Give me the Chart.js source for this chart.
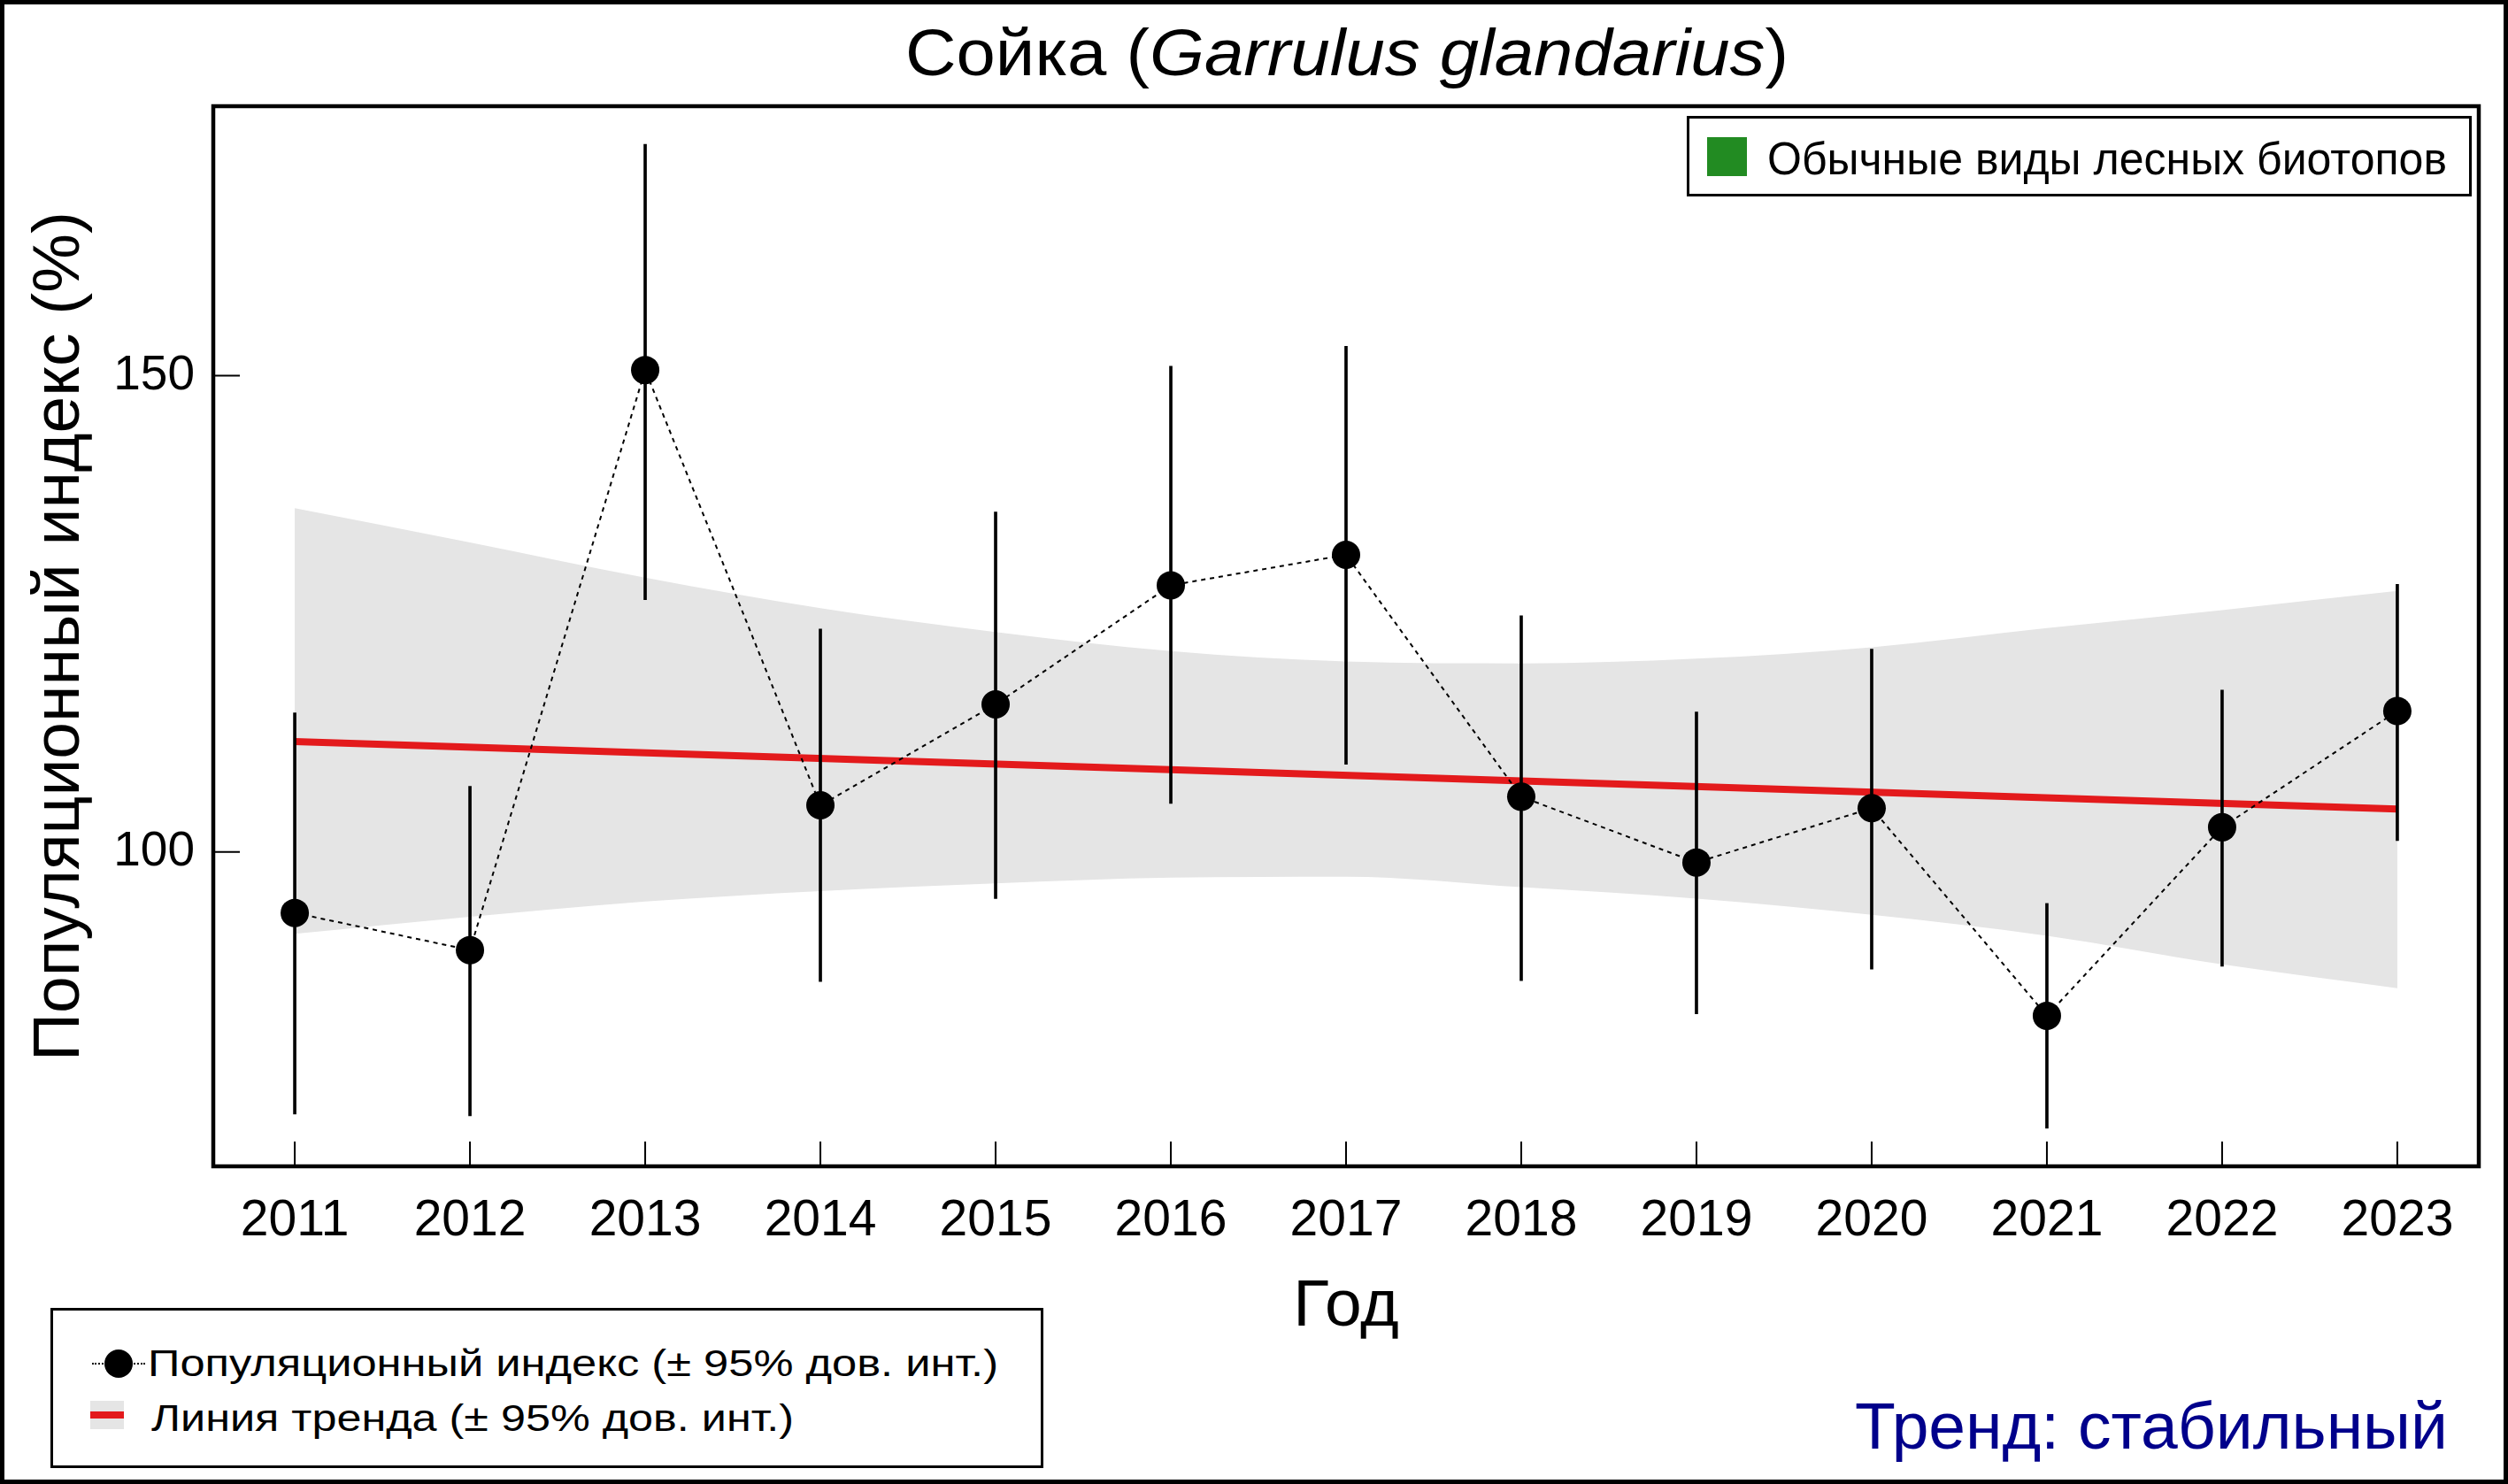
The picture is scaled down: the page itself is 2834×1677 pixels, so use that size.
<!DOCTYPE html>
<html>
<head>
<meta charset="utf-8">
<script src="https://cdn.jsdelivr.net/npm/chart.js@4.4.1/dist/chart.umd.min.js"></script>
<style>
    html, body { margin: 0; padding: 0; background: #fff; }
    #wrap { position: relative; width: 2834px; height: 1677px; overflow: hidden;
            font-family: "Liberation Sans", Arial, sans-serif; color: #000; }
    #chart { position: absolute; left: 0; top: 0; }
    #frame { position: absolute; left: 0; top: 0; width: 2834px; height: 1677px;
             box-sizing: border-box; border: 5px solid #000; pointer-events: none; }
    .txt { position: absolute; white-space: nowrap; line-height: 1; transform-origin: 0 0; display: inline-block; }
    .box { position: absolute; box-sizing: border-box; border: 3px solid #000; background: #fff; }
    .abs { position: absolute; }
</style>
</head>
<body>
<div id="wrap">
    <canvas id="chart" width="2834" height="1677"></canvas>

    <div class="txt" id="title" style="left:1023px; top:22px; font-size:75px;">Сойка (<i>Garrulus glandarius</i>)</div>

    <div class="box" style="left:1906px; top:131px; width:887px; height:91px;"></div>
    <div class="abs" style="left:1929px; top:155px; width:45px; height:44px; background:#228B22;"></div>
    <div class="txt" id="groupLabel" style="left:1997px; top:153px; font-size:52px;">Обычные виды лесных биотопов</div>

    <div class="box" style="left:57px; top:1478px; width:1122px; height:181px;"></div>
    <div class="abs" style="left:104px; top:1540px; width:60px; height:0; border-top:2px dotted #000;"></div>
    <div class="abs" style="left:118px; top:1525px; width:32px; height:32px; border-radius:50%; background:#000;"></div>
    <div class="abs" style="left:102px; top:1583px; width:38px; height:32px; background:#e5e5e5;"></div>
    <div class="abs" style="left:102px; top:1595px; width:38px; height:8px; background:#e31a1c;"></div>
    <div class="txt" id="row1" style="left:167px; top:1519px; font-size:43px;">Популяционный индекс (± 95% дов. инт.)</div>
    <div class="txt" id="row2" style="left:171px; top:1581px; font-size:43px;">Линия тренда (± 95% дов. инт.)</div>

    <div class="txt" id="trendLabel" style="left:2096px; top:1575px; font-size:74px; color:#00008B;">Тренд: стабильный</div>

    <div id="frame"></div>
</div>

<script>
// data
const years = [2011, 2012, 2013, 2014, 2015, 2016, 2017, 2018, 2019, 2020, 2021, 2022, 2023];
const indexValues = [93.6, 89.7, 150.6, 104.9, 115.5, 128.0, 131.2, 105.8, 98.9, 104.6, 82.8, 102.6, 114.8];
const ciLow = [72.5, 72.3, 126.5, 86.4, 95.1, 105.1, 109.2, 86.5, 83.0, 87.7, 71.0, 88.0, 101.2];
const ciHigh = [114.6, 106.9, 174.3, 123.4, 135.7, 151.0, 153.1, 124.8, 114.7, 121.3, 94.6, 117.0, 128.1];
const bandUpper = [136.1, 132.5, 128.8, 125.6, 123.1, 121.1, 120.0, 119.8, 120.3, 121.5, 123.5, 125.4, 127.4];
const bandLower = [91.4, 93.2, 94.8, 95.9, 96.7, 97.3, 97.4, 96.3, 95.1, 93.4, 91.2, 88.2, 85.7];
const trendYears = [2011, 2023];
const trendValues = [111.6, 104.5];
const yTicks = [100, 150];
const xRange = [2010.535, 2023.465];
const yRange = [67.0, 178.3];

const FONT = '"Liberation Sans", Arial, sans-serif';

// stretch the overlay texts to the widths they have in the reference
function fitWidth(id, target) {
    const el = document.getElementById(id);
    const w = el.getBoundingClientRect().width;
    if (w > 0) el.style.transform = `scaleX(${target / w})`;
}
fitWidth('title', 998);
fitWidth('groupLabel', 768);
fitWidth('row1', 961);
fitWidth('row2', 726);
fitWidth('trendLabel', 670);

const frameAndTicks = {
    id: 'frameAndTicks',
    afterDraw(chart) {
        const { ctx, chartArea: a, scales: { x, y } } = chart;
        ctx.save();
        ctx.strokeStyle = '#000';
        ctx.lineWidth = 2;
        ctx.beginPath();
        years.forEach(v => {
            const px = x.getPixelForValue(v);
            ctx.moveTo(px, a.bottom);
            ctx.lineTo(px, a.bottom - 28);
        });
        yTicks.forEach(v => {
            const py = y.getPixelForValue(v);
            ctx.moveTo(a.left, py);
            ctx.lineTo(a.left + 30, py);
        });
        ctx.stroke();
        ctx.lineWidth = 4.5;
        ctx.strokeRect(a.left, a.top, a.right - a.left, a.bottom - a.top);
        ctx.restore();
    }
};

const pts = (xs, ys) => xs.map((v, i) => ({ x: v, y: ys[i] }));

new Chart(document.getElementById('chart').getContext('2d'), {
    type: 'line',
    data: {
        datasets: [
            {
                label: 'band upper',
                data: pts(years, bandUpper),
                borderWidth: 0,
                pointRadius: 0,
                cubicInterpolationMode: 'monotone',
                backgroundColor: '#e5e5e5',
                fill: '+1',
                order: 20
            },
            {
                label: 'band lower',
                data: pts(years, bandLower),
                borderWidth: 0,
                pointRadius: 0,
                cubicInterpolationMode: 'monotone',
                fill: false,
                order: 21
            },
            {
                label: 'trend',
                data: pts(trendYears, trendValues),
                borderColor: '#e31a1c',
                borderWidth: 8,
                pointRadius: 0,
                fill: false,
                order: 5
            },
            {
                type: 'bar',
                label: 'ci',
                data: years.map((v, i) => ({ x: v, y: [ciLow[i], ciHigh[i]] })),
                backgroundColor: '#000',
                borderWidth: 0,
                barThickness: 3,
                grouped: false,
                order: 3
            },
            {
                label: 'index',
                data: pts(years, indexValues),
                borderColor: '#000',
                borderWidth: 2,
                borderDash: [5, 5],
                pointRadius: 16,
                pointHoverRadius: 16,
                pointBackgroundColor: '#000',
                pointBorderWidth: 0,
                fill: false,
                order: 1
            }
        ]
    },
    options: {
        responsive: false,
        devicePixelRatio: 1,
        animation: false,
        layout: { padding: { left: 23, top: 120, right: 33, bottom: 155 } },
        plugins: {
            legend: { display: false },
            tooltip: { enabled: false }
        },
        scales: {
            x: {
                type: 'linear',
                min: xRange[0],
                max: xRange[1],
                offset: false,
                grid: { display: false, drawTicks: false },
                border: { display: false },
                afterBuildTicks: s => { s.ticks = years.map(v => ({ value: v })); },
                afterFit: s => { s.height = 204; },
                ticks: {
                    autoSkip: false,
                    maxRotation: 0,
                    padding: 28,
                    color: '#000',
                    font: { family: FONT, size: 57 },
                    callback: v => String(v)
                },
                title: {
                    display: true,
                    text: 'Год',
                    color: '#000',
                    padding: 0,
                    font: { family: FONT, size: 75 }
                }
            },
            y: {
                min: yRange[0],
                max: yRange[1],
                grid: { display: false, drawTicks: false },
                border: { display: false },
                afterBuildTicks: s => { s.ticks = yTicks.map(v => ({ value: v })); },
                afterFit: s => { s.width = 218; },
                ticks: {
                    padding: 21,
                    color: '#000',
                    font: { family: FONT, size: 55 },
                    callback: v => String(v)
                },
                title: {
                    display: true,
                    text: 'Популяционный индекс (%)',
                    color: '#000',
                    padding: 0,
                    font: { family: FONT, size: 75 }
                }
            }
        }
    },
    plugins: [frameAndTicks]
});
</script>
</body>
</html>
